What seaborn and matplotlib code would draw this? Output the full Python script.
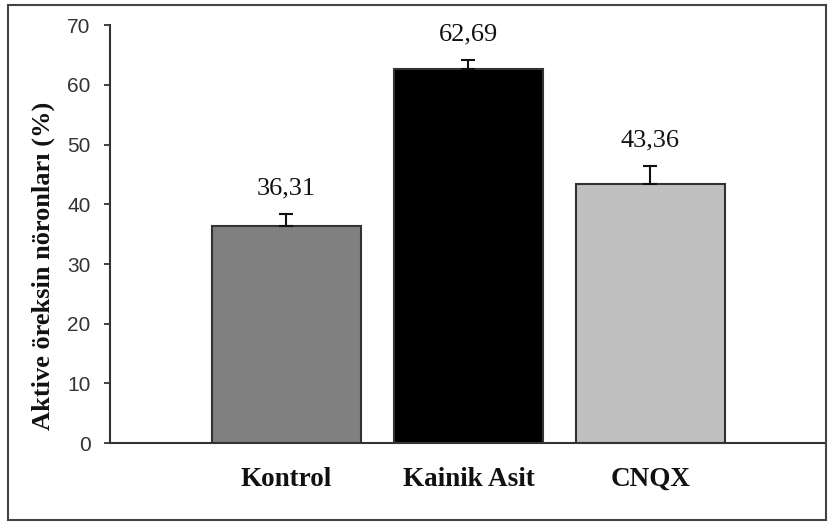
import matplotlib
matplotlib.use("Agg")
import matplotlib.pyplot as plt
import seaborn as sns
import pandas as pd
from matplotlib.patches import Rectangle
from matplotlib import font_manager

# Group means and upper error (SEM) of active orexin neurons
groups = ["Kontrol", "Kainik Asit", "CNQX"]
means = [36.31, 62.69, 43.36]
errors = [2.0, 1.4, 3.0]
bar_colors = ["#808080", "#000000", "#c0c0c0"]
y_ticks = [0, 10, 20, 30, 40, 50, 60, 70]

sns.set_theme(style="white")
plt.rcParams["font.family"] = ["Liberation Serif", "DejaVu Serif"]

installed = {f.name for f in font_manager.fontManager.ttflist}
tick_family = "Liberation Sans Narrow" if "Liberation Sans Narrow" in installed else "Liberation Sans"

df = pd.DataFrame({"grup": groups, "ortalama": means})

fig = plt.figure(figsize=(8.3, 5.25), dpi=100)
ax = fig.add_axes([0.1325, 0.156, 0.8615, 0.796])

sns.barplot(data=df, x="grup", y="ortalama", hue="grup", palette=bar_colors,
            order=groups, hue_order=groups, width=0.82, legend=False,
            edgecolor="#333333", linewidth=1.5, errorbar=None, ax=ax)

ax.errorbar(range(len(groups)), means, yerr=[[0] * len(groups), errors],
            fmt="none", ecolor="#111111", elinewidth=1.5, capsize=5,
            capthick=1.5, zorder=3)

for i, (m, e) in enumerate(zip(means, errors)):
    ax.annotate(f"{m:.2f}".replace(".", ","), xy=(i, m + e), xytext=(0, 11),
                textcoords="offset points", ha="center", va="bottom",
                fontsize=19, color="#111111", family="Liberation Serif")

ax.set_xlim(-0.97, 2.96)
ax.set_ylim(0, 70)
ax.set_yticks(y_ticks)
ax.set_yticklabels([str(t) for t in y_ticks], family=tick_family,
                   fontsize=15, color="#333333")
ax.tick_params(axis="y", which="major", direction="out", length=4, width=1.3,
               color="#333333", pad=10, left=True)
ax.tick_params(axis="x", length=0, pad=17)
for lab in ax.get_xticklabels():
    lab.set_fontweight("bold")
    lab.set_fontsize(19.5)
    lab.set_family("Liberation Serif")
    lab.set_color("#111111")

ax.set_xlabel("")
ax.set_ylabel("Aktive öreksin nöronları (%)", fontsize=19, fontweight="bold",
              family="Liberation Serif", color="#111111")
ax.yaxis.set_label_coords(-0.077, 0.423)

sns.despine(ax=ax)
for side in ("left", "bottom"):
    ax.spines[side].set_color("#333333")
    ax.spines[side].set_linewidth(1.5)

# Outer frame around the figure
fig.patches.append(Rectangle((8 / 830, 5 / 525), 818 / 830, 515 / 525,
                             transform=fig.transFigure, fill=False,
                             edgecolor="#444444", linewidth=1.5))

fig.savefig("out.png", dpi=100)
